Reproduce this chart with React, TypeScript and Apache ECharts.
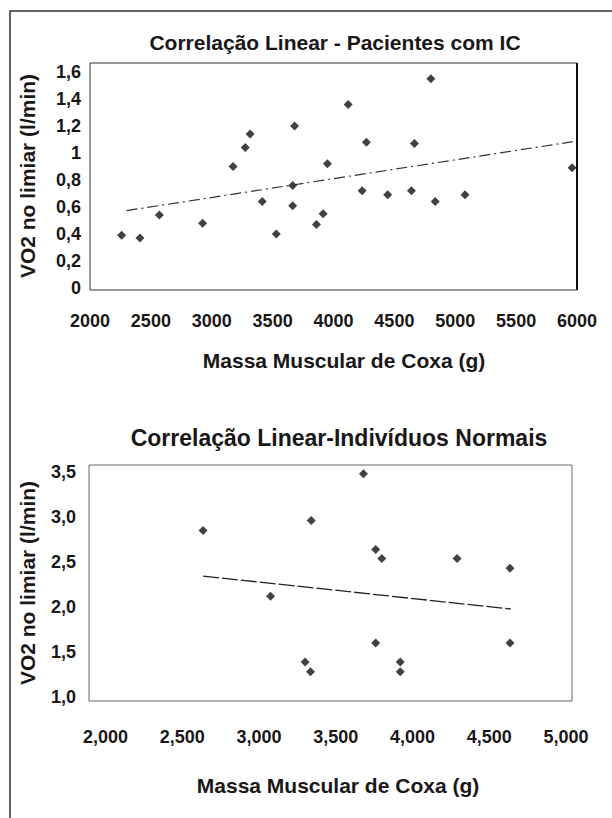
import React, { useEffect, useRef } from "react";
import * as echarts from "echarts";

// ---- Data: Pacientes com IC ----
const icMassa = [2260, 2410, 2570, 2925, 3175, 3275, 3315, 3415, 3530, 3665, 3665, 3680, 3860, 3915, 3950, 4120, 4235, 4270, 4445, 4640, 4665, 4800, 4835, 5080, 5960];
const icVO2 = [0.39, 0.37, 0.54, 0.48, 0.9, 1.04, 1.14, 0.64, 0.4, 0.61, 0.76, 1.2, 0.47, 0.55, 0.92, 1.36, 0.72, 1.08, 0.69, 0.72, 1.07, 1.55, 0.64, 0.69, 0.89];
const icTrendX = [2300, 5965];
const icTrendY = [0.573, 1.084];
const icXTicks = [2000, 2500, 3000, 3500, 4000, 4500, 5000, 5500, 6000];
const icYTicks = [0, 0.2, 0.4, 0.6, 0.8, 1, 1.2, 1.4, 1.6];

// ---- Data: Indivíduos Normais ----
const nMassa = [2635, 3075, 3300, 3335, 3340, 3680, 3760, 3800, 3760, 3920, 3920, 4290, 4635, 4635];
const nVO2 = [2.85, 2.12, 1.39, 1.28, 2.96, 3.48, 2.64, 2.54, 1.6, 1.39, 1.28, 2.54, 2.43, 1.6];
const nTrendX = [2635, 4640];
const nTrendY = [2.344, 1.978];
const nXTicks = [2000, 2500, 3000, 3500, 4000, 4500, 5000];
const nYTicks = [1.0, 1.5, 2.0, 2.5, 3.0, 3.5];

const titleIC = "Correlação Linear - Pacientes com IC";
const titleN = "Correlação Linear-Indivíduos Normais";
const xName = "Massa Muscular de Coxa (g)";
const yName = "VO2 no limiar (l/min)";

const FONT = "'Liberation Sans', Arial, Helvetica, sans-serif";
const INK = "#1a1718";

export default function App() {
  const ref = useRef<HTMLDivElement>(null);
  useEffect(() => {
    if (!ref.current) return;
    const chart = echarts.init(ref.current, undefined, { renderer: "svg" });
    const lbl = (extra: any) => ({
      fontSize: 18,
      fontWeight: "bold",
      fontFamily: FONT,
      color: INK,
      ...extra,
    });
    const hidden = {
      axisLine: { show: false },
      axisTick: { show: false },
      splitLine: { show: false },
    };
    const txt = (text: string, x: number, y: number, size: number, rotation = 0) => ({
      type: "text",
      x,
      y,
      rotation,
      style: {
        text,
        fontSize: size,
        fontWeight: "bold",
        fontFamily: FONT,
        fill: INK,
        textAlign: "center",
        textVerticalAlign: "middle",
        align: "center",
        verticalAlign: "middle",
      },
    });
    chart.setOption({
      animation: false,
      backgroundColor: "#ffffff",
      grid: [
        { left: 90, top: 63, width: 487, height: 227, show: true, borderColor: "#333", borderWidth: 1 },
        { left: 89, top: 465, width: 483, height: 236, show: true, borderColor: "#666", borderWidth: 1 },
      ],
      xAxis: [
        {
          type: "value", gridIndex: 0, min: 2000, max: 6000, ...hidden,
          axisLabel: lbl({ customValues: icXTicks, margin: 22, formatter: (v: number) => String(v) }),
        },
        {
          type: "value", gridIndex: 1, min: 1892, max: 5039, ...hidden,
          axisLabel: lbl({
            customValues: nXTicks, margin: 27,
            formatter: (v: number) => Math.floor(v / 1000) + "," + String(v % 1000).padStart(3, "0"),
          }),
        },
      ],
      yAxis: [
        {
          type: "value", gridIndex: 0, min: -0.015, max: 1.667, ...hidden,
          axisLabel: lbl({ customValues: icYTicks, margin: 9, formatter: (v: number) => String(v).replace(".", ",") }),
        },
        {
          type: "value", gridIndex: 1, min: 0.956, max: 3.578, ...hidden,
          axisLabel: lbl({ customValues: nYTicks, margin: 13, formatter: (v: number) => v.toFixed(1).replace(".", ",") }),
        },
      ],
      series: [
        {
          type: "line", xAxisIndex: 0, yAxisIndex: 0, symbol: "none", silent: true,
          data: icTrendX.map((x, i) => [x, icTrendY[i]]),
          lineStyle: { color: "#333", width: 1.2, type: [11, 4, 2, 4] },
        },
        {
          type: "scatter", xAxisIndex: 0, yAxisIndex: 0, symbol: "diamond", symbolSize: 9,
          itemStyle: { color: "#111" },
          data: icMassa.map((x, i) => [x, icVO2[i]]),
        },
        {
          type: "line", xAxisIndex: 1, yAxisIndex: 1, symbol: "none", silent: true,
          data: nTrendX.map((x, i) => [x, nTrendY[i]]),
          lineStyle: { color: "#222", width: 1.3, type: [16, 3] },
        },
        {
          type: "scatter", xAxisIndex: 1, yAxisIndex: 1, symbol: "diamond", symbolSize: 9,
          itemStyle: { color: "#111" },
          data: nMassa.map((x, i) => [x, nVO2[i]]),
        },
      ],
      graphic: [
        {
          type: "polyline",
          shape: { points: [[10, 818], [10, 11], [612, 11]] },
          style: { stroke: "#333", lineWidth: 1.5, fill: "none" },
          silent: true,
        },
        {
          type: "line",
          shape: { x1: 577, y1: 63, x2: 577, y2: 290 },
          style: { stroke: "#111", lineWidth: 2 },
          silent: true,
        },
        txt(titleIC, 335, 42, 21),
        txt(titleN, 339, 438, 23),
        txt(xName, 344, 360, 21),
        txt(xName, 338, 785, 21),
        txt(yName, 27, 176, 21, Math.PI / 2),
        txt(yName, 27, 583, 21, Math.PI / 2),
      ],
    });
    return () => chart.dispose();
  }, []);
  return (
    <div
      ref={ref}
      style={{ position: "absolute", left: 0, top: 0, width: 612, height: 818 }}
    />
  );
}
